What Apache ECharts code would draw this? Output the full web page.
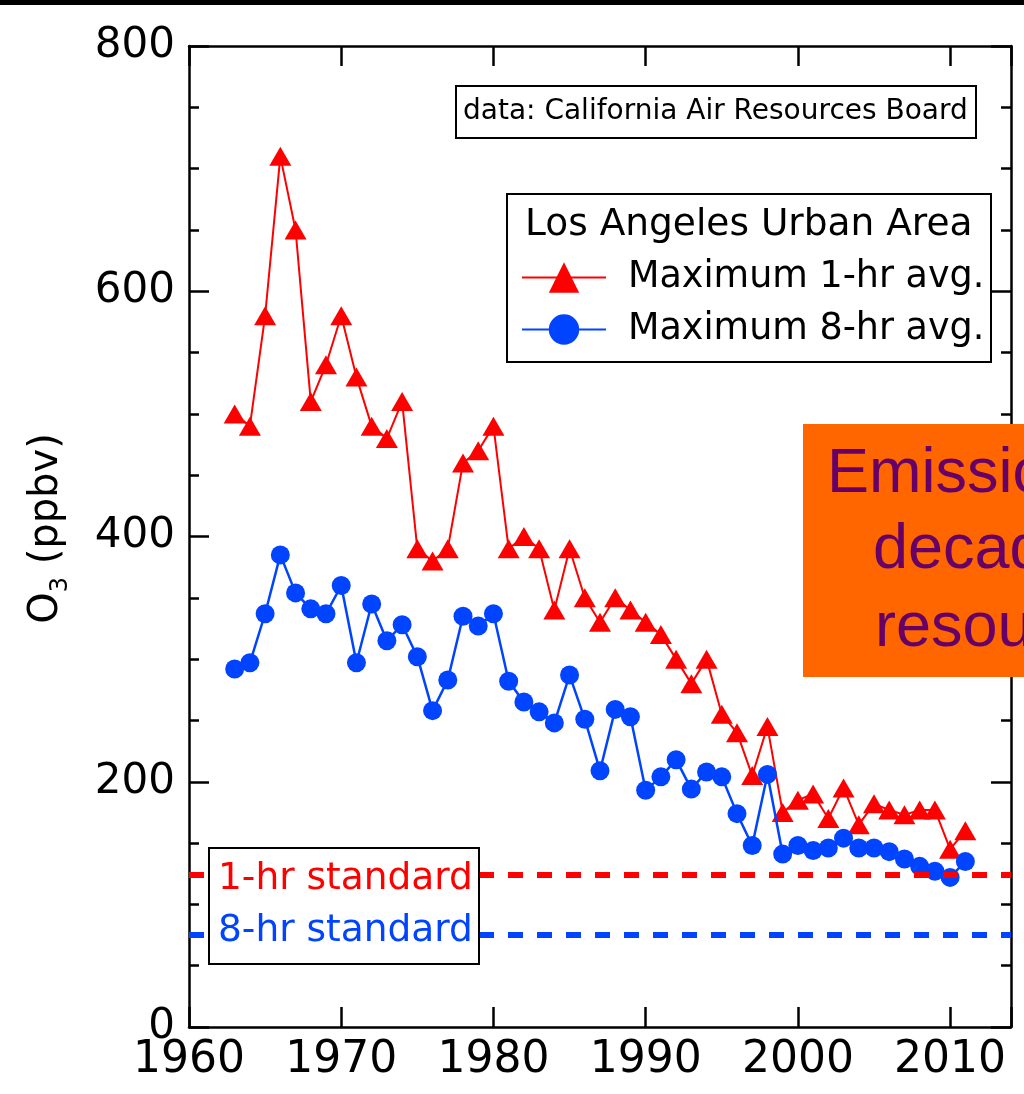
<!DOCTYPE html>
<html>
<head>
<meta charset="utf-8">
<script src="https://cdn.jsdelivr.net/npm/echarts@6/dist/echarts.min.js"></script>
<style>
  html, body { margin: 0; padding: 0; background: #ffffff; }
  #chart { width: 1024px; height: 1094px; }
</style>
</head>
<body>
<div id="chart"></div>
<script>
// Los Angeles urban area ozone maxima (ppbv), 1963-2011
const years = [
  1963, 1964, 1965, 1966, 1967, 1968, 1969, 1970, 1971, 1972,
  1973, 1974, 1975, 1976, 1977, 1978, 1979, 1980, 1981, 1982,
  1983, 1984, 1985, 1986, 1987, 1988, 1989, 1990, 1991, 1992,
  1993, 1994, 1995, 1996, 1997, 1998, 1999, 2000, 2001, 2002,
  2003, 2004, 2005, 2006, 2007, 2008, 2009, 2010, 2011
];
const max1hr = [
  500, 490, 580, 710, 650, 510, 540, 580, 530, 490,
  480, 510, 390, 380, 390, 460, 470, 490, 390, 400,
  390, 340, 390, 350, 330, 350, 340, 330, 320, 300,
  280, 300, 255, 240, 205, 245, 175, 185, 190, 170,
  195, 165, 182, 177, 173, 177, 177, 145, 160
];
const max8hr = [
  292, 297, 337, 385, 354, 341, 337, 360, 297, 345,
  315, 328, 302, 258, 283, 335, 327, 337, 282, 265,
  257, 248, 287, 251, 209, 259, 253, 193, 204, 218,
  194, 208, 204, 174, 148, 206, 141, 148, 144, 146,
  154, 146, 146, 143, 137, 131, 127, 122, 135
];
// Air quality standards (ppbv)
const standard1hr = 124;
const standard8hr = 75;

// Axis ranges and tick spacing
const yearRange = [1960, 2014];
const yearStep = 10;
const o3Range = [0, 800];
const o3Step = 200;

const seriesNames = ['Maximum 1-hr avg.', 'Maximum 8-hr avg.'];
const standardNames = ['1-hr standard', '8-hr standard'];

const RED = '#FF0000';
const BLUE = '#0044FF';
const FONT = 'DejaVu Sans';

function pairs(xs, ys) {
  return xs.map((x, i) => [x, ys[i]]);
}

const frameLine = { show: true, onZero: false, lineStyle: { color: '#000', width: 2.5 } };
const tickStyle = { color: '#000', width: 2.5 };

function xAxisDef(pos, withLabels) {
  return {
    type: 'value', position: pos,
    min: yearRange[0], max: yearRange[1], interval: yearStep,
    axisLine: frameLine,
    axisTick: { show: true, inside: true, length: 20, lineStyle: tickStyle },
    axisLabel: {
      show: withLabels, margin: 12, color: '#000', fontFamily: FONT, fontSize: 44,
      formatter: v => (v % yearStep === 0 ? String(v) : '')
    },
    splitLine: { show: false }
  };
}

function yAxisDef(pos, withLabels) {
  const def = {
    type: 'value', position: pos,
    min: o3Range[0], max: o3Range[1], interval: o3Step,
    axisLine: frameLine,
    axisTick: { show: true, inside: true, length: 20, lineStyle: tickStyle },
    minorTick: { show: true, splitNumber: 4, length: 10, lineStyle: tickStyle },
    axisLabel: { show: withLabels, margin: 14, color: '#000', fontFamily: FONT, fontSize: 42 },
    splitLine: { show: false },
    minorSplitLine: { show: false }
  };
  if (withLabels) {
    def.name = '{o|O}{s|3}{o| (ppbv)}';
    def.nameLocation = 'middle';
    def.nameGap = 116;
    def.nameTextStyle = {
      color: '#000',
      padding: [0, 0, 0, 16],
      rich: {
        o: { fontFamily: FONT, fontSize: 40, lineHeight: 46, verticalAlign: 'top', color: '#000' },
        s: { fontFamily: FONT, fontSize: 24, lineHeight: 24, verticalAlign: 'bottom', color: '#000' }
      }
    };
  }
  return def;
}

function standardSeries(name, value, color) {
  return {
    name: name, type: 'line', data: [], silent: true,
    markLine: {
      silent: true, symbol: 'none', animation: false,
      label: { show: false },
      lineStyle: { color: color, width: 6, type: [15, 14], opacity: 1 },
      data: [{ yAxis: value }]
    }
  };
}

const chart = echarts.init(document.getElementById('chart'), null, { renderer: 'canvas' });

chart.setOption({
  animation: false,
  backgroundColor: '#ffffff',
  grid: { left: 189, right: 13, top: 46, bottom: 67, containLabel: false },
  xAxis: [xAxisDef('bottom', true), xAxisDef('top', false)],
  yAxis: [yAxisDef('left', true), yAxisDef('right', false)],
  legend: {
    data: seriesNames,
    orient: 'vertical',
    left: 516, top: 254,
    itemWidth: 84, itemHeight: 38, itemGap: 15,
    selectedMode: false,
    textStyle: { color: '#000', fontFamily: FONT, fontSize: 36.5, padding: [0, 0, 0, 17] }
  },
  series: [
    standardSeries(standardNames[0], standard1hr, RED),
    standardSeries(standardNames[1], standard8hr, BLUE),
    {
      name: seriesNames[0], type: 'line',
      data: pairs(years, max1hr),
      symbol: 'triangle', symbolSize: [22, 19],
      itemStyle: { color: RED },
      lineStyle: { color: RED, width: 2 },
      z: 3
    },
    {
      name: seriesNames[1], type: 'line',
      data: pairs(years, max8hr),
      symbol: 'circle', symbolSize: 19,
      itemStyle: { color: BLUE },
      lineStyle: { color: BLUE, width: 2.5 },
      z: 4
    }
  ],
  graphic: [
    // thin black band along the top edge
    { type: 'rect', z: 30, shape: { x: 0, y: 0, width: 1024, height: 5 }, style: { fill: '#000' } },
    // data source box
    { type: 'rect', z: 10, shape: { x: 456, y: 86, width: 520, height: 52 },
      style: { fill: '#fff', stroke: '#000', lineWidth: 2 } },
    { type: 'text', z: 11, x: 463, y: 112,
      style: { text: 'data: California Air Resources Board', fill: '#000',
               font: '28px "DejaVu Sans"', verticalAlign: 'middle', align: 'left' } },
    // legend frame and heading
    { type: 'rect', z: 1, shape: { x: 507, y: 194, width: 484, height: 168 },
      style: { fill: '#fff', stroke: '#000', lineWidth: 2 } },
    { type: 'text', z: 11, x: 525, y: 225,
      style: { text: 'Los Angeles Urban Area', fill: '#000',
               font: '37.5px "DejaVu Sans"', verticalAlign: 'middle', align: 'left' } },
    // standards key box
    { type: 'rect', z: 10, shape: { x: 209, y: 848, width: 270, height: 116 },
      style: { fill: '#fff', stroke: '#000', lineWidth: 2 } },
    { type: 'text', z: 11, x: 218, y: 879,
      style: { text: standardNames[0], fill: RED,
               font: '37.5px "DejaVu Sans"', verticalAlign: 'middle', align: 'left' } },
    { type: 'text', z: 11, x: 218, y: 931,
      style: { text: standardNames[1], fill: BLUE,
               font: '37.5px "DejaVu Sans"', verticalAlign: 'middle', align: 'left' } },
    // callout panel
    { type: 'rect', z: 20, shape: { x: 803, y: 424, width: 240, height: 253 },
      style: { fill: '#FF6600' } },
    { type: 'text', z: 21, x: 827, y: 475,
      style: { text: 'Emissions', fill: '#660066',
               font: '63px "Liberation Sans"', verticalAlign: 'middle', align: 'left' } },
    { type: 'text', z: 21, x: 873, y: 551,
      style: { text: 'decades', fill: '#660066',
               font: '63px "Liberation Sans"', verticalAlign: 'middle', align: 'left' } },
    { type: 'text', z: 21, x: 875, y: 629,
      style: { text: 'resources', fill: '#660066',
               font: '63px "Liberation Sans"', verticalAlign: 'middle', align: 'left' } }
  ]
});
</script>
</body>
</html>
